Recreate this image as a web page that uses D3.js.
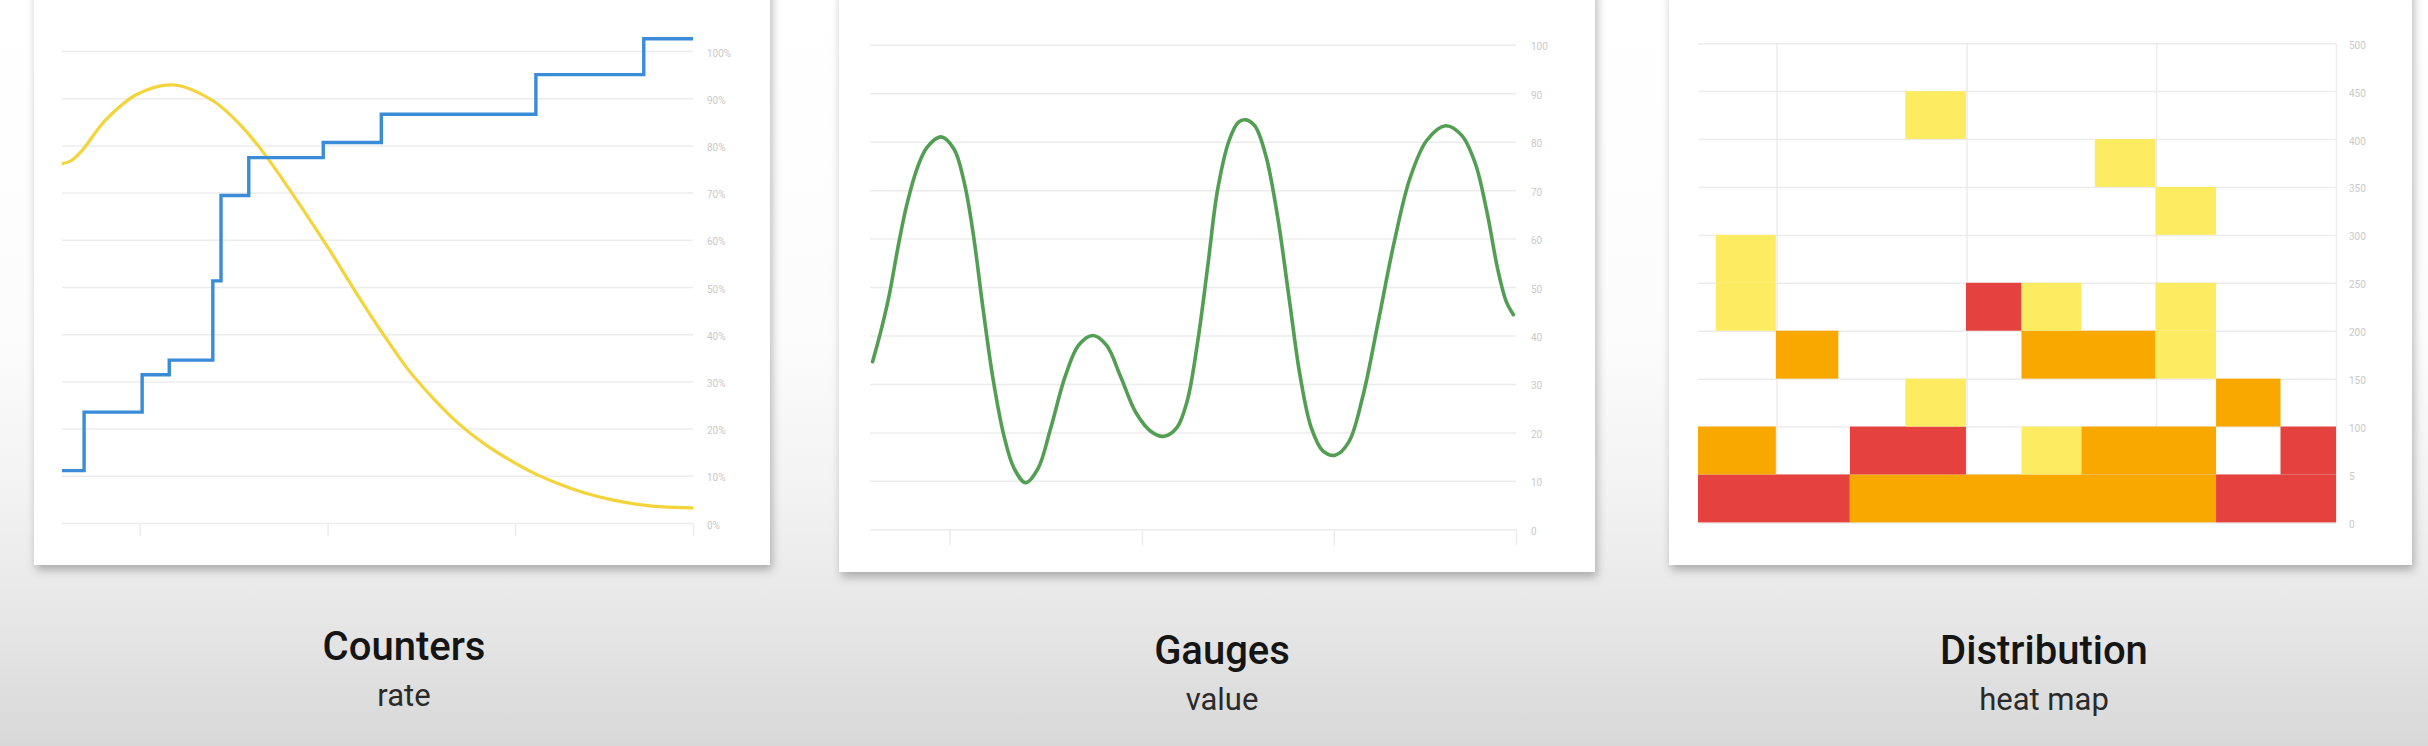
<!DOCTYPE html>
<html>
<head>
<meta charset="utf-8">
<script src="https://cdn.jsdelivr.net/npm/d3@7"></script>
<style>
  html, body { margin: 0; padding: 0; background: #fff; }
  svg { display: block; }
</style>
</head>
<body>
<svg id="chart" width="2428" height="746"></svg>
<script>
// ---------------- DATA ----------------
// Shared x axis (time, % of window) tick positions
const xTicks = [12.3, 42.1, 71.8, 100];

// Panel 1: Counters (rate)
const counterYTicks = [0, 10, 20, 30, 40, 50, 60, 70, 80, 90, 100];
const counterYLabels = ["0%", "10%", "20%", "30%", "40%", "50%", "60%", "70%", "80%", "90%", "100%"];
const stepX = [0, 3.5, 12.7, 17.0, 23.9, 25.2, 29.6, 41.4, 50.6, 75.1, 92.2, 100];
const stepY = [11.1, 23.5, 31.4, 34.5, 51.3, 69.4, 77.4, 80.6, 86.6, 95.0, 102.6, 102.6];
const curveX = [0, 1.5, 3.1, 7.0, 12.0, 17.8, 24.1, 28.5, 32.2, 38.7, 42.8, 46.8, 50.8, 54.8, 58.9, 62.9, 67.0, 71.0, 75.0, 79.1, 83.0, 87.2, 91.0, 95.2, 100];
const curveY = [76.1, 76.8, 78.8, 85.5, 90.9, 92.8, 89.3, 84.0, 78.0, 65.4, 57.0, 48.4, 40.2, 32.6, 26.3, 21.0, 16.7, 13.3, 10.4, 8.1, 6.3, 4.9, 4.0, 3.4, 3.2];

// Panel 2: Gauges (value)
const gaugeYTicks = [0, 10, 20, 30, 40, 50, 60, 70, 80, 90, 100];
const gaugeYLabels = ["0", "10", "20", "30", "40", "50", "60", "70", "80", "90", "100"];
const gaugeX = [0.4, 1.7, 3.0, 4.3, 5.7, 7.3, 8.8, 11.0, 13.0, 14.6, 16.0, 17.5, 19.1, 20.7, 22.3, 24.1,
  26.0, 28.0, 30.2, 32.3, 34.5, 36.6, 38.8, 41.2, 43.5, 45.5, 47.5, 49.1, 50.7, 52.3, 53.8, 55.6, 57.0,
  58.2, 59.6, 61.3, 63.1, 64.9, 66.6, 68.3, 70.1, 72.0, 74.1, 76.3, 78.7, 81.1, 83.6, 86.2, 89.1, 91.6,
  93.7, 95.5, 97.2, 98.5, 99.6];
const gaugeY = [34.6, 41.0, 48.5, 58.0, 67.0, 74.5, 78.8, 81.0, 78.5, 71.5, 60.8, 45.5, 30.6, 19.5, 12.6, 9.6,
  12.5, 21.0, 31.5, 38.0, 40.0, 38.0, 31.5, 24.0, 20.2, 19.2, 21.0, 26.5, 38.5, 54.5, 70.0, 80.3, 84.0,
  84.5, 83.2, 77.0, 64.5, 47.5, 31.5, 21.0, 16.2, 15.3, 18.0, 27.5, 43.0, 59.0, 72.5, 80.3, 83.3, 81.3,
  75.5, 65.5, 53.5, 47.0, 44.3];

// Panel 3: Distribution (heat map)
const heatYTicks = [0, 50, 100, 150, 200, 250, 300, 350, 400, 450, 500];
const heatYLabels = ["0", "5", "100", "150", "200", "250", "300", "350", "400", "450", "500"];
const heatX0 =   [0,    23.8, 81.2, 0,    23.8, 50.7, 60.1, 91.3, 32.5, 81.2, 12.2, 50.7, 71.7, 2.8,  42.0, 50.7, 71.7, 2.8,  71.7, 62.2, 32.5];
const heatX1 =   [23.8, 81.2, 100,  12.2, 42.0, 60.1, 81.2, 100,  42.0, 91.3, 22.0, 71.7, 81.2, 12.2, 50.7, 60.1, 81.2, 12.2, 81.2, 71.7, 42.0];
const heatBin =  [0,    0,    0,    50,   50,   50,   50,   50,   100,  100,  150,  150,  150,  200,  200,  200,  200,  250,  300,  350,  400];
const heatLevel = ["high", "mid", "high", "mid", "high", "low", "mid", "high", "low", "mid", "mid", "mid", "low", "low", "high", "low", "low", "low", "low", "low", "low"];
const heatLevels = ["low", "mid", "high"];
const heatColors = ["#FDEC62", "#F9A800", "#E5413E"];

// Titles
const titles = ["Counters", "Gauges", "Distribution"];
const subtitles = ["rate", "value", "heat map"];

// ---------------- LAYOUT ----------------
const svg = d3.select("#chart");
const defs = svg.append("defs");

const bg = defs.append("linearGradient").attr("id", "bg").attr("x1", 0).attr("y1", 0).attr("x2", 0).attr("y2", 1);
[[0, "#ffffff"], [0.45, "#fcfcfc"], [0.65, "#f3f3f3"], [0.8, "#e9e9e9"], [1, "#d8d8d8"]].forEach(([o, c]) =>
  bg.append("stop").attr("offset", o).attr("stop-color", c));

const shadow = defs.append("filter").attr("id", "shadow")
  .attr("x", "-5%").attr("y", "-5%").attr("width", "115%").attr("height", "115%");
shadow.append("feDropShadow").attr("dx", 2).attr("dy", 5).attr("stdDeviation", 5)
  .attr("flood-color", "#000").attr("flood-opacity", 0.28);

svg.append("rect").attr("width", 2428).attr("height", 746).attr("fill", "url(#bg)");

const panels = [
  { card: [34, -20, 770, 565], left: 62, right: 693, top: 51, bottom: 523, labelDx: 14, tick: 13, cx: 404, ty: 660 },
  { card: [839, -20, 1595, 572], left: 870, right: 1516, top: 44.8, bottom: 529.3, labelDx: 15, tick: 16, cx: 1222, ty: 664 },
  { card: [1669, -20, 2412, 565], left: 1698, right: 2336, top: 43.2, bottom: 522.4, labelDx: 13, tick: 0, cx: 2044, ty: 664 }
];

panels.forEach(p => {
  svg.append("rect")
    .attr("x", p.card[0]).attr("y", p.card[1])
    .attr("width", p.card[2] - p.card[0]).attr("height", p.card[3] - p.card[1])
    .attr("fill", "#fff").attr("filter", "url(#shadow)");
});

const gridColor = "#ececec";
const labelColor = "#c9c9c9";
const labelFont = "Roboto, 'Open Sans', sans-serif";

function drawYAxis(p, y, ticks, labels) {
  const g = svg.append("g").attr("transform", `translate(${p.right},0)`);
  const ax = d3.axisRight(y).tickValues(ticks).tickSize(-(p.right - p.left))
    .tickPadding(p.labelDx).tickFormat((d, i) => labels[i]);
  g.call(ax);
  g.select(".domain").remove();
  g.selectAll(".tick line").attr("stroke", gridColor).attr("stroke-width", 1.5);
  g.selectAll(".tick text").attr("fill", labelColor).attr("font-size", 10)
    .attr("font-family", labelFont).attr("dy", "0.5em");
}

function drawXAxis(p, x) {
  const g = svg.append("g").attr("transform", `translate(0,${p.bottom})`);
  const ax = d3.axisBottom(x).tickValues(xTicks).tickSize(p.tick).tickFormat("");
  g.call(ax);
  g.select(".domain").remove();
  g.selectAll(".tick line").attr("stroke", gridColor).attr("stroke-width", 1.5);
}

// ---------------- PANEL 1 ----------------
{
  const p = panels[0];
  const x = d3.scaleLinear().domain([0, 100]).range([p.left, p.right]);
  const y = d3.scaleLinear().domain([0, 100]).range([p.bottom, p.top]);
  drawYAxis(p, y, counterYTicks, counterYLabels);
  drawXAxis(p, x);
  const curveData = curveX.map((d, i) => [d, curveY[i]]);
  svg.append("path").datum(curveData)
    .attr("d", d3.line().x(d => x(d[0])).y(d => y(d[1])).curve(d3.curveCatmullRom.alpha(0.5)))
    .attr("fill", "none").attr("stroke", "#F3D43A").attr("stroke-width", 3.2);
  const stepData = stepX.map((d, i) => [d, stepY[i]]);
  svg.append("path").datum(stepData)
    .attr("d", d3.line().x(d => x(d[0])).y(d => y(d[1])).curve(d3.curveStepAfter))
    .attr("fill", "none").attr("stroke", "#3A8BD8").attr("stroke-width", 3.4);
}

// ---------------- PANEL 2 ----------------
{
  const p = panels[1];
  const x = d3.scaleLinear().domain([0, 100]).range([p.left, p.right]);
  const y = d3.scaleLinear().domain([0, 100]).range([p.bottom, p.top]);
  drawYAxis(p, y, gaugeYTicks, gaugeYLabels);
  drawXAxis(p, x);
  const data = gaugeX.map((d, i) => [d, gaugeY[i]]);
  svg.append("path").datum(data)
    .attr("d", d3.line().x(d => x(d[0])).y(d => y(d[1])).curve(d3.curveCatmullRom.alpha(0.5)))
    .attr("fill", "none").attr("stroke", "#529E53").attr("stroke-width", 3.6)
    .attr("stroke-linejoin", "round").attr("stroke-linecap", "round");
}

// ---------------- PANEL 3 ----------------
{
  const p = panels[2];
  const x = d3.scaleLinear().domain([0, 100]).range([p.left, p.right]);
  const y = d3.scaleLinear().domain([0, 500]).range([p.bottom, p.top]);
  const color = d3.scaleOrdinal().domain(heatLevels).range(heatColors);
  drawYAxis(p, y, heatYTicks, heatYLabels);
  // vertical grid lines
  const gx = svg.append("g").attr("transform", `translate(0,${p.bottom})`);
  gx.call(d3.axisBottom(x).tickValues(xTicks).tickSize(-(p.bottom - p.top)).tickFormat(""));
  gx.select(".domain").remove();
  gx.selectAll(".tick line").attr("stroke", gridColor).attr("stroke-width", 1.5);
  const cells = heatX0.map((d, i) => ({ x0: d, x1: heatX1[i], b: heatBin[i], level: heatLevel[i] }));
  svg.append("g").selectAll("rect").data(cells).join("rect")
    .attr("x", d => x(d.x0)).attr("width", d => x(d.x1) - x(d.x0))
    .attr("y", d => y(d.b + 50)).attr("height", d => y(d.b) - y(d.b + 50))
    .attr("fill", d => color(d.level));
}

// ---------------- TITLES ----------------
panels.forEach((p, i) => {
  svg.append("text").attr("x", p.cx).attr("y", p.ty).attr("text-anchor", "middle")
    .attr("font-family", "Roboto, sans-serif").attr("font-weight", 500).attr("font-size", 40)
    .attr("fill", "#151515").text(titles[i]);
  svg.append("text").attr("x", p.cx).attr("y", p.ty + 46).attr("text-anchor", "middle")
    .attr("font-family", "Roboto, sans-serif").attr("font-weight", 400).attr("font-size", 31)
    .attr("fill", "#2a2a2a").text(subtitles[i]);
});
</script>
</body>
</html>
